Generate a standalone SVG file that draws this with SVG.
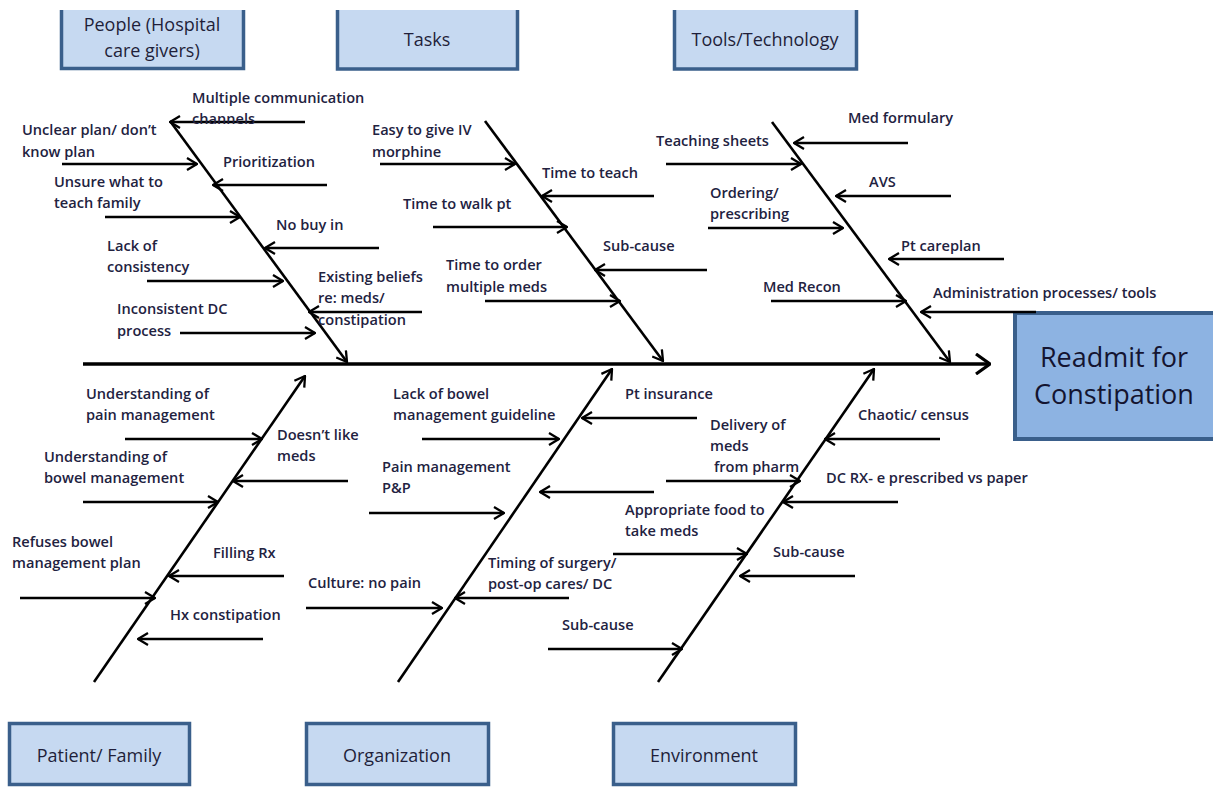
<svg xmlns="http://www.w3.org/2000/svg" width="1213" height="787" viewBox="0 0 1213 787">
<style>
.cat{fill:#C6D9F1;stroke:none}
.catb{fill:none;stroke:#3A5F8B;stroke-width:3.5}
.ct{font-family:"Open Sans","Liberation Sans",sans-serif;font-size:18px;fill:#1F1F3A;text-anchor:middle}
.ht{font-family:"Open Sans","Liberation Sans",sans-serif;font-size:27px;fill:#141430;text-anchor:middle}
.t{font-family:"Open Sans","Liberation Sans",sans-serif;font-size:14.6px;font-weight:600;fill:#22223F}
.bone{stroke:#000;stroke-width:2.6;fill:none;marker-end:url(#ah)}
.sub{stroke:#000;stroke-width:2.4;fill:none;marker-end:url(#ah)}
.spine{stroke:#000;stroke-width:3.6;fill:none;marker-end:url(#ahb)}
</style>
<defs>
<marker id="ah" viewBox="0 0 12 14" refX="11" refY="7" markerWidth="12" markerHeight="14" markerUnits="userSpaceOnUse" orient="auto">
<path d="M1,1 L11,7 L1,13" fill="none" stroke="#000" stroke-width="2.3"/>
</marker>
<marker id="ahb" viewBox="0 0 16 22" refX="15" refY="11" markerWidth="16" markerHeight="22" markerUnits="userSpaceOnUse" orient="auto">
<path d="M1,1 L15,11 L1,21" fill="none" stroke="#000" stroke-width="3.2"/>
</marker>
</defs>
<rect width="1213" height="787" fill="#fff"/>

<g id="cat-people">
<rect class="cat" x="60" y="10" width="185" height="59"/>
<path class="catb" d="M61.5,10 V68.5 H243.5 V10"/>
<text class="ct" x="152" y="31">People (Hospital</text>
<text class="ct" x="152" y="57">care givers)</text>
</g>
<g id="cat-tasks">
<rect class="cat" x="336" y="10" width="183" height="60"/>
<path class="catb" d="M337.5,10 V69 H517.5 V10"/>
<text class="ct" x="427" y="46">Tasks</text>
</g>
<g id="cat-tools">
<rect class="cat" x="673" y="10" width="185" height="60"/>
<path class="catb" d="M674.5,10 V69 H856.5 V10"/>
<text class="ct" x="765" y="46">Tools/Technology</text>
</g>
<g id="cat-patient">
<rect class="cat" x="9.5" y="723.5" width="180" height="61"/>
<rect class="catb" x="9.5" y="723.5" width="180" height="61"/>
<text class="ct" x="99" y="762">Patient/ Family</text>
</g>
<g id="cat-organization">
<rect class="cat" x="306.5" y="723.5" width="182" height="61"/>
<rect class="catb" x="306.5" y="723.5" width="182" height="61"/>
<text class="ct" x="397" y="762">Organization</text>
</g>
<g id="cat-environment">
<rect class="cat" x="613.5" y="723.5" width="182" height="61"/>
<rect class="catb" x="613.5" y="723.5" width="182" height="61"/>
<text class="ct" x="704" y="762">Environment</text>
</g>
<g id="head">
<rect x="1015" y="313" width="200" height="126" fill="#8DB3E2" stroke="#3A5F8B" stroke-width="4"/>
<text class="ht" x="1114" y="367">Readmit for</text>
<text class="ht" x="1114" y="404">Constipation</text>
</g>

<g id="connectors">
<line class="spine" x1="83" y1="364" x2="990" y2="364"/>
<line class="bone" x1="170" y1="121" x2="347" y2="362"/>
<line class="bone" x1="485" y1="121" x2="663" y2="361"/>
<line class="bone" x1="772" y1="122" x2="950" y2="362"/>
<line class="bone" x1="94" y1="682" x2="305" y2="376"/>
<line class="bone" x1="398" y1="682" x2="612" y2="369"/>
<line class="bone" x1="658" y1="682" x2="874" y2="369"/>

<line class="sub" x1="305" y1="122" x2="170" y2="122"/>
<line class="sub" x1="62" y1="164" x2="197" y2="164"/>
<line class="sub" x1="327" y1="185" x2="213" y2="185"/>
<line class="sub" x1="105" y1="217" x2="240" y2="217"/>
<line class="sub" x1="379" y1="248" x2="265" y2="248"/>
<line class="sub" x1="147" y1="281" x2="283" y2="281"/>
<line class="sub" x1="422" y1="312" x2="309" y2="312"/>
<line class="sub" x1="180" y1="333" x2="315" y2="333"/>

<line class="sub" x1="380" y1="164" x2="515" y2="164"/>
<line class="sub" x1="654" y1="196" x2="542" y2="196"/>
<line class="sub" x1="433" y1="227" x2="567" y2="227"/>
<line class="sub" x1="707" y1="270" x2="595" y2="270"/>
<line class="sub" x1="485" y1="301" x2="620" y2="301"/>

<line class="sub" x1="908" y1="143" x2="794" y2="143"/>
<line class="sub" x1="666" y1="164" x2="801" y2="164"/>
<line class="sub" x1="951" y1="196" x2="836" y2="196"/>
<line class="sub" x1="708" y1="228" x2="843" y2="228"/>
<line class="sub" x1="1004" y1="259" x2="889" y2="259"/>
<line class="sub" x1="771" y1="301" x2="906" y2="301"/>
<line class="sub" x1="1036" y1="312" x2="921" y2="312"/>

<line class="sub" x1="125" y1="439" x2="262" y2="439"/>
<line class="sub" x1="348" y1="481" x2="233" y2="481"/>
<line class="sub" x1="83" y1="502" x2="218" y2="502"/>
<line class="sub" x1="20" y1="598" x2="155" y2="598"/>
<line class="sub" x1="284" y1="576" x2="169" y2="576"/>
<line class="sub" x1="263" y1="639" x2="138" y2="639"/>

<line class="sub" x1="422" y1="439" x2="559" y2="439"/>
<line class="sub" x1="697" y1="418" x2="582" y2="418"/>
<line class="sub" x1="666" y1="481" x2="800" y2="481"/>
<line class="sub" x1="369" y1="513" x2="504" y2="513"/>
<line class="sub" x1="654" y1="492" x2="540" y2="492"/>
<line class="sub" x1="613" y1="554" x2="747" y2="554"/>
<line class="sub" x1="569" y1="598" x2="455" y2="598"/>
<line class="sub" x1="306" y1="608" x2="442" y2="608"/>
<line class="sub" x1="548" y1="649" x2="682" y2="649"/>

<line class="sub" x1="940" y1="439" x2="825" y2="439"/>
<line class="sub" x1="898" y1="502" x2="783" y2="502"/>
<line class="sub" x1="855" y1="576" x2="740" y2="576"/>
</g>

<g id="labels">
<text class="t" x="192" y="103">Multiple communication</text>
<text class="t" x="192" y="124">channels</text>
<text class="t" x="22" y="135">Unclear plan/ don’t</text>
<text class="t" x="22" y="157">know plan</text>
<text class="t" x="223" y="167">Prioritization</text>
<text class="t" x="54" y="187">Unsure what to</text>
<text class="t" x="54" y="208">teach family</text>
<text class="t" x="276" y="230">No buy in</text>
<text class="t" x="107" y="251">Lack of</text>
<text class="t" x="107" y="272">consistency</text>
<text class="t" x="318" y="282">Existing beliefs</text>
<text class="t" x="318" y="303">re: meds/</text>
<text class="t" x="318" y="325">constipation</text>
<text class="t" x="117" y="314">Inconsistent DC</text>
<text class="t" x="117" y="336">process</text>

<text class="t" x="372" y="135">Easy to give IV</text>
<text class="t" x="372" y="157">morphine</text>
<text class="t" x="542" y="178">Time to teach</text>
<text class="t" x="403" y="209">Time to walk pt</text>
<text class="t" x="603" y="251">Sub-cause</text>
<text class="t" x="446" y="270">Time to order</text>
<text class="t" x="446" y="292">multiple meds</text>

<text class="t" x="848" y="123">Med formulary</text>
<text class="t" x="656" y="146">Teaching sheets</text>
<text class="t" x="869" y="187">AVS</text>
<text class="t" x="710" y="198">Ordering/</text>
<text class="t" x="710" y="219">prescribing</text>
<text class="t" x="901" y="251">Pt careplan</text>
<text class="t" x="763" y="292">Med Recon</text>
<text class="t" x="933" y="298">Administration processes/ tools</text>

<text class="t" x="86" y="399">Understanding of</text>
<text class="t" x="86" y="420">pain management</text>
<text class="t" x="277" y="440">Doesn’t like</text>
<text class="t" x="277" y="461">meds</text>
<text class="t" x="44" y="462">Understanding of</text>
<text class="t" x="44" y="483">bowel management</text>
<text class="t" x="12" y="547">Refuses bowel</text>
<text class="t" x="12" y="568">management plan</text>
<text class="t" x="213" y="558">Filling Rx</text>
<text class="t" x="170" y="620">Hx constipation</text>

<text class="t" x="393" y="399">Lack of bowel</text>
<text class="t" x="393" y="420">management guideline</text>
<text class="t" x="625" y="399">Pt insurance</text>
<text class="t" x="710" y="430">Delivery of</text>
<text class="t" x="710" y="451">meds</text>
<text class="t" x="714" y="472">from pharm</text>
<text class="t" x="382" y="472">Pain management</text>
<text class="t" x="382" y="493">P&amp;P</text>
<text class="t" x="625" y="515">Appropriate food to</text>
<text class="t" x="625" y="536">take meds</text>
<text class="t" x="488" y="568">Timing of surgery/</text>
<text class="t" x="488" y="589">post-op cares/ DC</text>
<text class="t" x="308" y="588">Culture: no pain</text>
<text class="t" x="562" y="630">Sub-cause</text>

<text class="t" x="858" y="420">Chaotic/ census</text>
<text class="t" x="826" y="483">DC RX- e prescribed vs paper</text>
<text class="t" x="773" y="557">Sub-cause</text>
</g>
</svg>
